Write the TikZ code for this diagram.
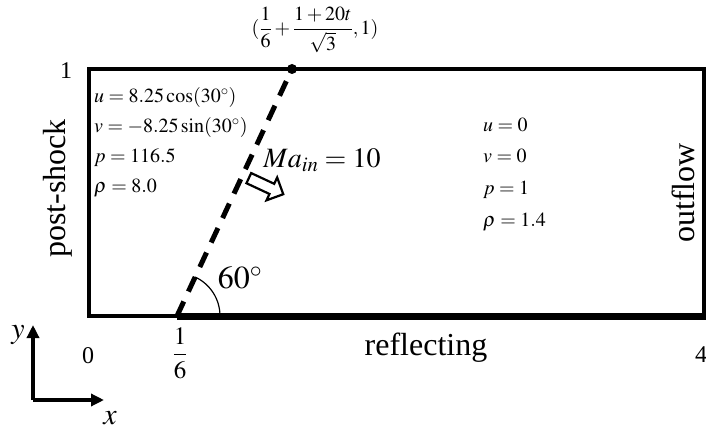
\documentclass[tikz,border=0pt]{standalone}
\usepackage{mathptmx}
\usepackage[no-math]{fontspec}
\setmainfont{Liberation Serif}
\usetikzlibrary{arrows.meta,shapes.arrows}

\tikzset{
  wall/.style={line width=3.5pt},
  shock/.style={line width=5pt, dash pattern=on 16pt off 11pt},
  dot/.style={circle, fill, inner sep=0pt, minimum size=10pt},
  state/.style={font=\fontsize{20}{24}\selectfont, inner sep=0pt, anchor=base west},
  bc/.style={font=\fontsize{32}{38}\selectfont, inner sep=0pt, anchor=base},
  tick/.style={font=\fontsize{24}{28}\selectfont, inner sep=0pt, anchor=base},
  axis/.style={line width=4pt, -{Triangle[length=13pt,width=12pt]}},
}

\begin{document}
\begin{tikzpicture}[x=1pt,y=1pt]
\useasboundingbox (0,0) rectangle (706,434);
    % Corners of the domain
\coordinate (SW) at (89,118);
\coordinate (SE) at (704,118);
\coordinate (NE) at (704,365);
\coordinate (NW) at (89,365);
\coordinate (foot) at (177,118);
\coordinate (wallend) at (705.75,118);

    % Draw the box and the reflecting wall
\draw[wall] (SW) -- (SE) -- (NE) -- (NW) -- cycle;
\draw[line width=7pt] (foot) -- (wallend);

    % The shock and its end point
\node[dot] (top) at (292,365) {};
\draw[shock] (foot) -- (top.center);
\node[font=\fontsize{20}{24}\selectfont] (toplabel) at (315,404)
  {$(\displaystyle\frac{1}{6}+\frac{1+20t}{\sqrt{3}},1)$};

    % Angle of the shock
\draw[line width=1.2pt] ([xshift=43pt]foot) arc (0:65:43);
\node[font=\fontsize{32}{38}\selectfont, inner sep=0pt] (angle) at (240,156) {$60^\circ$};

    % Inflow Mach number
\node[single arrow, draw, line width=2.2pt, fill=white, minimum height=38pt,
      inner xsep=0pt, inner ysep=4.5pt, single arrow head extend=7pt,
      rotate=-25] (flow) at (263.5,249) {};
\node[font=\fontsize{28}{34}\selectfont, inner sep=0pt] (mach) at (322,274) {$Ma_{in}=10$};

    % Post-shock state
\node[state] (L1) at (94,331) {$u=8.25\cos(30^\circ)$};
\node[state] (L2) at (94,301) {$v=-8.25\sin(30^\circ)$};
\node[state] (L3) at (94,271) {$p=116.5$};
\node[state] (L4) at (94,241) {$\rho=8.0$};

    % Pre-shock state
\node[state] (R1) at (483,302) {$u=0$};
\node[state] (R2) at (483,271) {$v=0$};
\node[state] (R3) at (483,239) {$p=1$};
\node[state] (R4) at (483,207) {$\rho=1.4$};

    % Boundary names
\node[bc, rotate=90] (left) at (65,245.5) {post-shock};
\node[bc, rotate=90] (right) at (694,241) {outflow};
\node[bc] (bottom) at (426,79) {reflecting};

    % Ticks
\node[tick] (one) at (66,355) {1};
\node[tick] (zero) at (88,71) {0};
\node[tick] (four) at (701,72) {4};
\node[font=\fontsize{25}{30}\selectfont, inner sep=0pt] (sixth) at (180,81) {$\displaystyle\frac{1}{6}$};

    % Axes
\coordinate (O) at (33,34);
\coordinate (ytip) at (33,109);
\coordinate (xtip) at (104,34);
\draw[axis] (O) -- (ytip);
\draw[axis] (O) -- (xtip);
\node[font=\fontsize{30}{36}\selectfont, inner sep=0pt] (ylab) at (18,99) {$y$};
\node[font=\fontsize{30}{36}\selectfont, inner sep=0pt] (xlab) at (110,16) {$x$};
\end{tikzpicture}
\end{document}
